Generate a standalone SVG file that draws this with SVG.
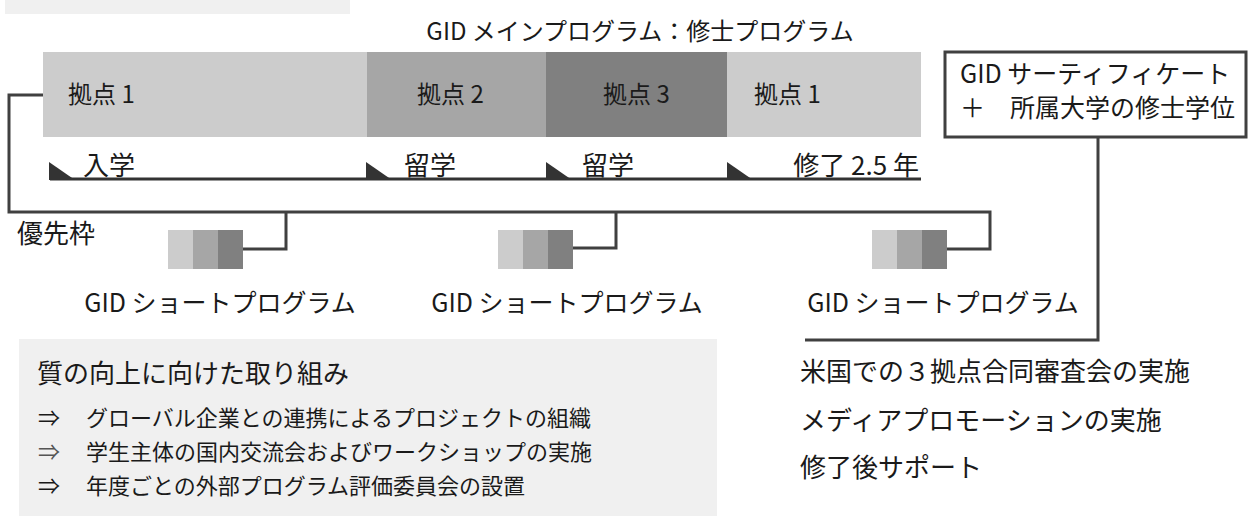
<svg xmlns="http://www.w3.org/2000/svg" width="1250" height="526" viewBox="0 0 1250 526">
<style>
text { font-family: "Noto Sans CJK JP", "Noto Sans", sans-serif; fill: #1a1a1a; }
.t24 { font-size: 24px; }
.t25 { font-size: 25px; }
.t26 { font-size: 26px; }
.t23 { font-size: 22px; }
.conn { fill: none; stroke: #404040; stroke-width: 3; }
.c1 { fill: #cccccc; }
.c2 { fill: #a6a6a6; }
.c3 { fill: #808080; }
.tri { fill: #333333; }
</style>
<rect x="5" y="0" width="345" height="14" fill="#f0f0f0"/>
<text class="t24" x="640" y="40" text-anchor="middle">GID メインプログラム：修士プログラム</text>

<g id="main-bar">
  <rect class="c1" x="43" y="52" width="324" height="85"/>
  <rect class="c2" x="367" y="52" width="179" height="85"/>
  <rect class="c3" x="546" y="52" width="181" height="85"/>
  <rect class="c1" x="727" y="52" width="194" height="85"/>
  <text class="t24" x="68" y="103">拠点 1</text>
  <text class="t24" x="417" y="103">拠点 2</text>
  <text class="t24" x="603" y="103">拠点 3</text>
  <text class="t24" x="754" y="103">拠点 1</text>
</g>

<g id="timeline">
  <line x1="50" y1="179" x2="921" y2="179" stroke="#333333" stroke-width="3"/>
  <polygon class="tri" points="49,162 75,180 49,180"/>
  <polygon class="tri" points="366,162 392,180 366,180"/>
  <polygon class="tri" points="546,162 572,180 546,180"/>
  <polygon class="tri" points="727,162 753,180 727,180"/>
  <text class="t26" x="83" y="175">入学</text>
  <text class="t26" x="404" y="175">留学</text>
  <text class="t26" x="582" y="175">留学</text>
  <text class="t26" x="919" y="175" text-anchor="end">修了 2.5 年</text>
</g>

<g id="certificate">
  <rect x="945" y="52" width="301" height="85" fill="#ffffff" stroke="#404040" stroke-width="3"/>
  <text class="t25" x="960" y="83">GID サーティフィケート</text>
  <text class="t25" x="960" y="117">＋　所属大学の修士学位</text>
</g>

<g id="priority">
  <text class="t26" x="17" y="243">優先枠</text>
</g>

<g id="short1">
  <rect class="c1" x="168" y="230" width="25" height="39"/>
  <rect class="c2" x="193" y="230" width="25" height="39"/>
  <rect class="c3" x="218" y="230" width="25" height="39"/>
  <text class="t25" x="220" y="312" text-anchor="middle">GID ショートプログラム</text>
</g>
<g id="short2">
  <rect class="c1" x="498" y="230" width="25" height="39"/>
  <rect class="c2" x="523" y="230" width="25" height="39"/>
  <rect class="c3" x="548" y="230" width="25" height="39"/>
  <text class="t25" x="567" y="312" text-anchor="middle">GID ショートプログラム</text>
</g>
<g id="short3">
  <rect class="c1" x="872" y="230" width="25" height="39"/>
  <rect class="c2" x="897" y="230" width="25" height="39"/>
  <rect class="c3" x="922" y="230" width="25" height="39"/>
  <text class="t25" x="943" y="312" text-anchor="middle">GID ショートプログラム</text>
</g>

<g id="connectors">
  <polyline class="conn" points="43,95 9,95 9,212 990,212 990,249 947,249"/>
  <polyline class="conn" points="286,212 286,249 243,249"/>
  <polyline class="conn" points="616,212 616,248 573,248"/>
  <polyline class="conn" points="1098,137 1098,340 805,340"/>
</g>

<g id="quality">
  <rect x="19" y="339" width="698" height="177" fill="#f0f0f0"/>
  <text class="t26" x="37" y="383">質の向上に向けた取り組み</text>
  <text class="t23" x="38" y="426">⇒</text>
  <text class="t23" x="86" y="426">グローバル企業との連携によるプロジェクトの組織</text>
  <text class="t23" x="38" y="460" style="fill:#555555">⇒</text>
  <text class="t23" x="86" y="460">学生主体の国内交流会およびワークショップの実施</text>
  <text class="t23" x="38" y="494">⇒</text>
  <text class="t23" x="86" y="494">年度ごとの外部プログラム評価委員会の設置</text>
</g>

<g id="support">
  <text class="t26" x="800" y="381">米国での３拠点合同審査会の実施</text>
  <text class="t26" x="800" y="430">メディアプロモーションの実施</text>
  <text class="t26" x="800" y="477">修了後サポート</text>
</g>
</svg>
